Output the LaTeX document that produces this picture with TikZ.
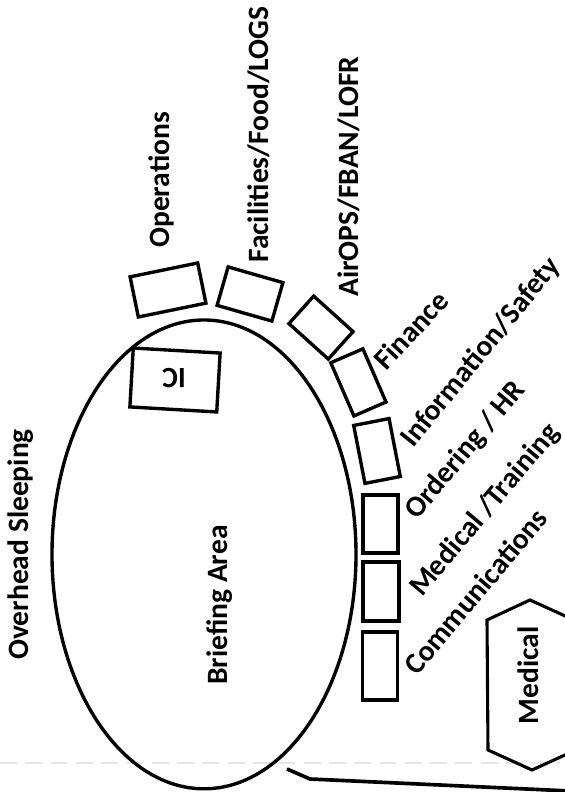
\documentclass[tikz,border=0pt]{standalone}
\usepackage{fontspec}
\setmainfont{Carlito}
\usepackage{tikz}
\tikzset{
	desk/.style={draw, line width=2.4pt, inner sep=0pt},
	lbl/.style={font=\bfseries\fontsize{21}{25}\selectfont, inner sep=0pt, anchor=base west},
}

\begin{document}
\begin{tikzpicture}
			%%%%% START %%%%%
			\useasboundingbox (0,0) rectangle (14.125,19.8);
			
			% faint fold in the paper
			\draw[black!10, line width=1.2pt, dash pattern=on 12pt off 6pt] (0,0.725) -- (14,0.725);
			
			% briefing area
			\draw[line width=2.4pt] (5.1,5.94) ellipse (3.8 and 5.86);
			\node[lbl, rotate=90] (brief) at (5.675,2.675) {Briefing Area};
			\node[lbl, rotate=90] (sleep) at (0.7,3.3) {Overhead Sleeping};
			
			% IC
			\node[desk, minimum width=2.175cm, minimum height=1.475cm, rotate=-3.3] (ic) at (4.375,10.3) {};
			\node[lbl, anchor=center, rotate=180] (ictext) at (4.35,10.35) {IC};
			
			% desks round the top
			\node[desk, minimum width=1.725cm, minimum height=1.025cm, rotate=11.6] (ops) at (4.2,12.55) {};
			\node[desk, minimum width=1.425cm, minimum height=1.0cm, rotate=-16] (logs) at (6.25,12.45) {};
			\node[desk, minimum width=1.325cm, minimum height=0.925cm, rotate=-42] (air) at (8.025,11.61) {};
			\node[desk, minimum width=0.875cm, minimum height=1.45cm, rotate=23.5] (info) at (8.96,10.24) {};
			\node[desk, minimum width=0.9cm, minimum height=1.475cm, rotate=11] (order) at (9.425,8.525) {};
			\node[desk, minimum width=0.875cm, minimum height=1.45cm] (medtr) at (9.51,6.7) {};
			\node[desk, minimum width=0.9cm, minimum height=1.475cm] (comm) at (9.525,5.01) {};
			\node[desk, minimum width=0.875cm, minimum height=1.7cm] (comm2) at (9.5,3.15) {};
			
			% labels
			\node[lbl, rotate=90] (opstext) at (4.225,13.6) {Operations};
			\node[lbl, rotate=90] (logstext) at (6.7,13.225) {Facilities/Food/LOGS};
			\node[lbl, rotate=90] (airtext) at (8.95,12.375) {AirOPS/FBAN/LOFR};
			\node[lbl, rotate=47] (fintext) at (9.65,10.5) {Finance};
			\node[lbl, rotate=51] (infotext) at (10.33,8.575) {Information/Safety};
			\node[lbl, rotate=50] (ordertext) at (10.425,6.775) {Ordering / HR};
			\node[lbl, rotate=50] (medtrtext) at (10.55,4.85) {Medical /Training};
			\node[lbl, rotate=50] (commtext) at (10.425,2.875) {Communications};
			
			% medical unit
			\draw[line width=2.2pt] (13.25,4.8) -- (12.175,4.3) -- (12.2,1.05) -- (13.3,0.55) -- (14.4,1.05) -- (14.35,4.3) -- cycle;
			\node[lbl, anchor=base, rotate=90] (med) at (13.45,2.9125) {Medical};
			
			% road
			\draw[line width=2.6pt] (7.175,0.575) -- (7.75,0.325) -- (14.25,0.025);
			%%%%% END %%%%%
\end{tikzpicture}
\end{document}
